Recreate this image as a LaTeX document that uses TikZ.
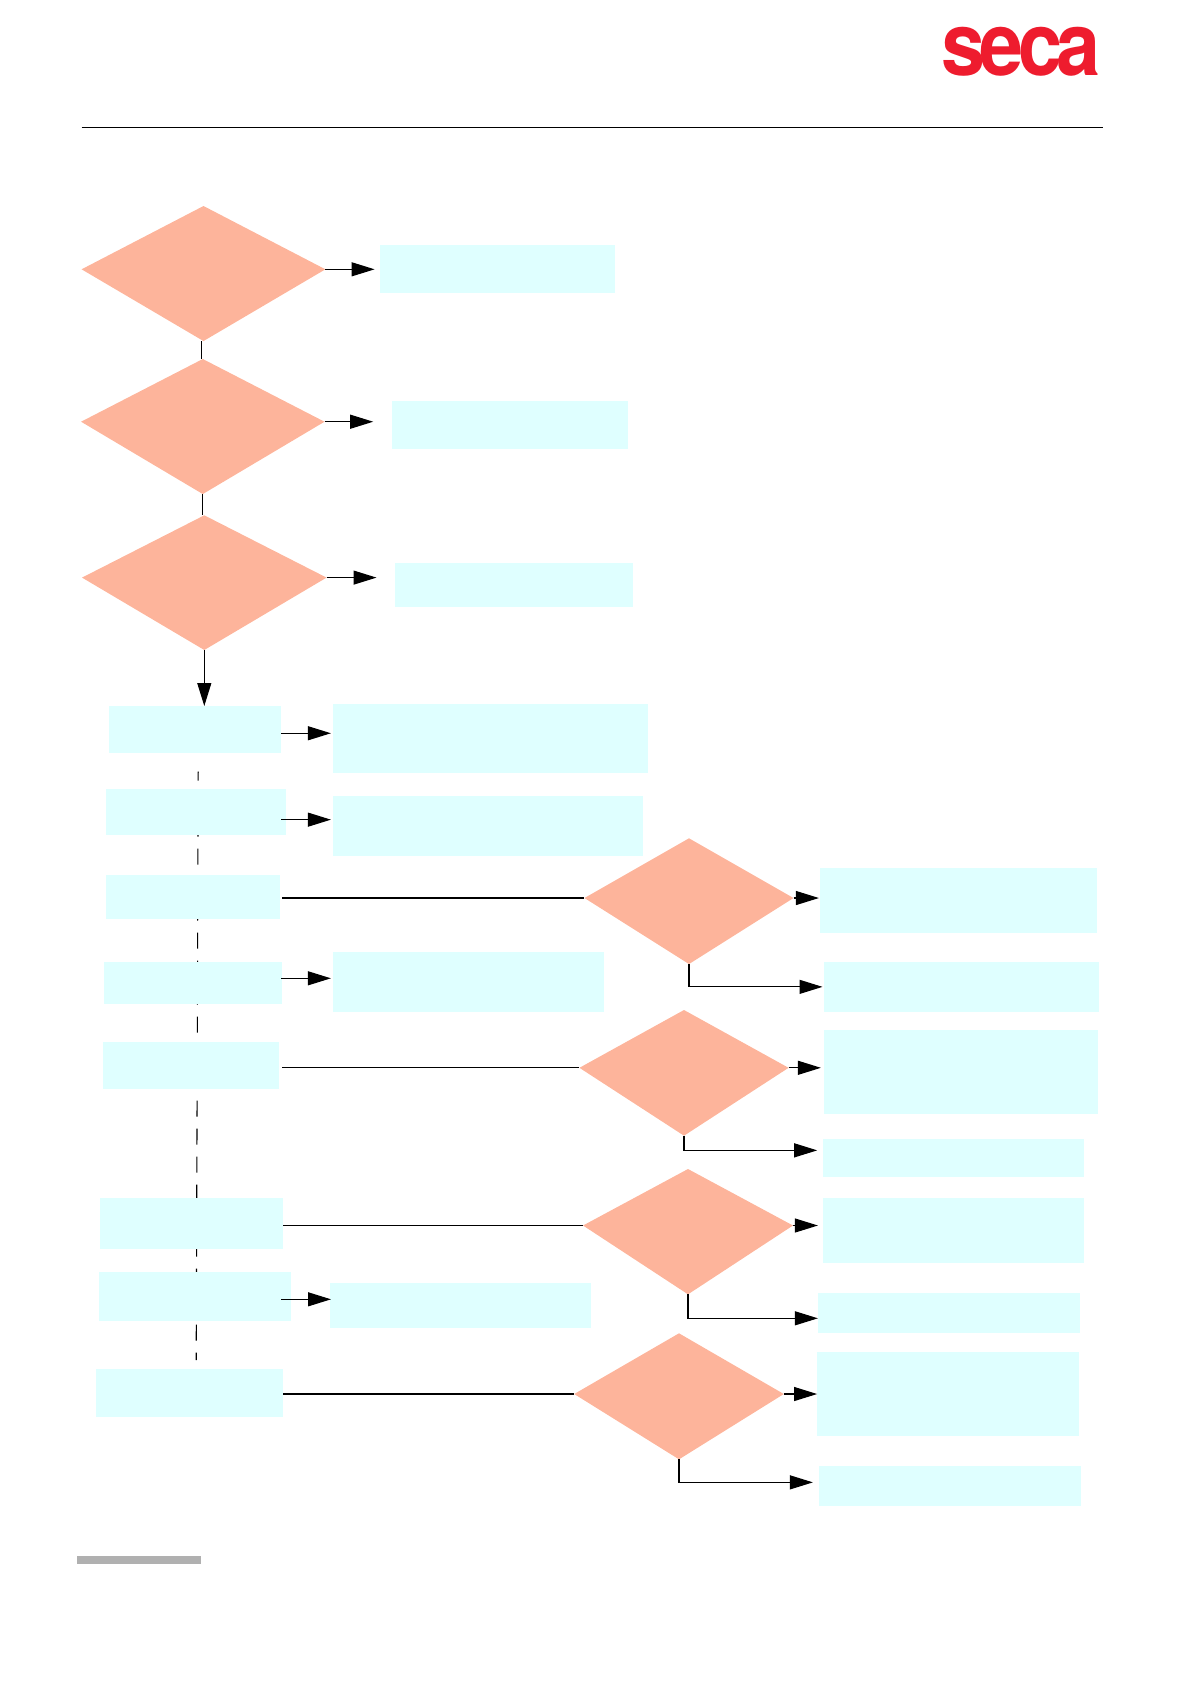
\documentclass[tikz,border=0pt]{standalone}
\usepackage{fontspec}
\usepackage{tikz}
\usetikzlibrary{shapes.geometric, calc, arrows.meta}
\newfontfamily\logofont[LetterSpace=-7]{TeX Gyre Heros}
\definecolor{askfill}{HTML}{FDB49B}
\definecolor{stepfill}{HTML}{DFFFFF}
\definecolor{logored}{HTML}{EE1C2E}
\definecolor{footgrey}{HTML}{B0B0B0}
\tikzset{
    stepbox/.style 2 args={draw=none, fill=stepfill, inner sep=0pt, outer sep=0pt,
        minimum width=#1pt, minimum height=#2pt},
    askbox/.style n args={3}{shape=kite, draw=none, fill=askfill, inner sep=1pt, outer sep=0pt,
        anchor=upper vertex, minimum width=#1pt,
        kite upper vertex angle={2*atan(#1/2/#2)},
        kite lower vertex angle={2*atan(#1/2/#3)}},
    link/.style={line width=1.1pt},
    flow/.style={line width=1.1pt, -{Triangle[length=23pt, width=14pt]}},
}

\begin{document}
\begin{tikzpicture}[x=1pt, y=-1pt]
    \useasboundingbox (0,0) rectangle (1190,1684);

    % header
    \node[logored, anchor=base, font=\logofont\bfseries\fontsize{88}{88}\selectfont] (logo) at (1021,75) {\scalebox{.9}[1]{seca}};
    \coordinate (ruleL) at (81.6,127.5);
    \coordinate (ruleR) at (1103,127.5);
    \draw[line width=1.1pt] (ruleL) -- (ruleR);

    % dashed spine, runs behind the left column
    \coordinate (spineT) at (198.2,771.7);
    \coordinate (spineB) at (196.2,1360);
    \draw[line width=1.1pt, dash pattern=on 16pt off 12pt, dash phase=7pt] (spineT) -- (spineB);

    % first three questions and their answers
    \node[askbox={243.8}{63.3}{71.7}] (ask1) at (203.5,206) {};
    \node[askbox={243.4}{62.7}{72.3}] (ask2) at (202.8,359) {};
    \node[askbox={244.6}{62.3}{72.4}] (ask3) at (204.3,515.3) {};
    \node[stepbox={235.4}{47.4}] (ans1) at (497.3,269) {};
    \node[stepbox={235.8}{47.7}] (ans2) at (510.1,425.15) {};
    \node[stepbox={238.4}{43.7}] (ans3) at (514.1,585.15) {};

    % left column
    \node[stepbox={172.2}{47.3}] (step1) at (195.1,729.65) {};
    \node[stepbox={180.3}{45.7}] (step2) at (195.65,812.15) {};
    \node[stepbox={174.1}{43.7}] (step3) at (192.95,896.85) {};
    \node[stepbox={178}{42.6}] (step4) at (193,983) {};
    \node[stepbox={176.1}{47}] (step5) at (191.25,1065.2) {};
    \node[stepbox={182.9}{51}] (step6) at (191.65,1223.8) {};
    \node[stepbox={192.2}{49}] (step7) at (195.1,1296.2) {};
    \node[stepbox={187.1}{47.4}] (step8) at (189.55,1393) {};

    % middle column
    \node[stepbox={315.3}{68.7}] (note1) at (490.55,738.35) {};
    \node[stepbox={310}{59.7}] (note2) at (487.9,825.85) {};
    \node[stepbox={271.3}{59.7}] (note4) at (468.55,981.85) {};
    \node[stepbox={261.4}{44.4}] (note7) at (460.5,1305.5) {};

    % right hand questions
    \node[askbox={209}{59.7}{66}] (ask4) at (689,838.3) {};
    \node[askbox={209.2}{57.8}{67.9}] (ask5) at (684,1010) {};
    \node[askbox={210}{56.5}{68.8}] (ask6) at (688,1169) {};
    \node[askbox={209.6}{60.7}{65.3}] (ask7) at (679,1333.3) {};

    % right column
    \node[stepbox={277.2}{64.4}] (yes4) at (958.2,900.5) {};
    \node[stepbox={275.4}{49.7}] (no4) at (961.6,986.85) {};
    \node[stepbox={273.6}{83.4}] (yes5) at (960.7,1072) {};
    \node[stepbox={261.1}{38.3}] (no5) at (953.75,1157.85) {};
    \node[stepbox={261.8}{65}] (yes6) at (953.4,1230.8) {};
    \node[stepbox={261.7}{39.4}] (no6) at (948.75,1313) {};
    \node[stepbox={261.5}{83.7}] (yes7) at (947.85,1393.85) {};
    \node[stepbox={262.5}{40.3}] (no7) at (950.15,1485.85) {};

    % footer
    \node[fill=footgrey, inner sep=0pt, outer sep=0pt, minimum width=124pt, minimum height=8pt] (foot) at (138.8,1560) {};

    % top chain
    \draw[link] ($(ask1.lower vertex)+(-2,0)$) -- ($(ask1.lower vertex |- ask2.upper vertex)+(-2,0)$);
    \draw[link] (ask2.lower vertex) -- (ask2.lower vertex |- ask3.upper vertex);
    \draw[flow] (ask3.lower vertex) -- (ask3.lower vertex |- step1.north);
    \draw[flow, shorten >=5pt] (ask1.right vertex) -- (ask1.right vertex -| ans1.west);
    \draw[flow, shorten >=19pt] (ask2.right vertex) -- (ask2.right vertex -| ans2.west);
    \draw[flow, shorten >=18.4pt] (ask3.right vertex) -- (ask3.right vertex -| ans3.west);

    % left column to middle column
    \draw[flow, shorten >=2pt] ($(step1.east)+(0,3.6)$) -- ($(step1.east -| note1.west)+(0,3.6)$);
    \draw[flow, shorten >=2pt] ($(step2.east)+(-4.6,7.5)$) -- ($(step2.east -| note2.west)+(0,7.5)$);
    \draw[flow, shorten >=2pt] ($(step4.east)+(-0.8,-4.7)$) -- ($(step4.east -| note4.west)+(0,-4.7)$);
    \draw[flow, shorten >=-1.2pt] ($(step7.east)+(-10,3.1)$) -- ($(step7.east -| note7.west)+(0,3.1)$);

    % left column to right hand questions
    \draw[link] ($(ask4.left vertex -| step3.east)+(2,0)$) -- (ask4.left vertex);
    \draw[link] ($(ask5.left vertex -| step5.east)+(2.7,0)$) -- (ask5.left vertex);
    \draw[link] (ask6.left vertex -| step6.east) -- (ask6.left vertex);
    \draw[link] (ask7.left vertex -| step8.east) -- (ask7.left vertex);

    % right hand questions to right column
    \draw[flow, shorten >=0.7pt] (ask4.right vertex) -- (ask4.right vertex -| yes4.west);
    \draw[flow, shorten >=3pt] (ask5.right vertex) -- (ask5.right vertex -| yes5.west);
    \draw[flow, shorten >=4.6pt] (ask6.right vertex) -- (ask6.right vertex -| yes6.west);
    \draw[flow] (ask7.right vertex) -- (ask7.right vertex -| yes7.west);
    \draw[flow, shorten >=1.4pt] (ask4.lower vertex) |- (no4.west);
    \draw[flow, shorten >=6pt] (ask5.lower vertex) |- ($(no5.west)+(0,-7.5)$);
    \draw[flow] (ask6.lower vertex) |- ($(no6.west)+(0,5.3)$);
    \draw[flow, shorten >=6pt] (ask7.lower vertex) |- ($(no7.west)+(0,-3.5)$);
\end{tikzpicture}
\end{document}
